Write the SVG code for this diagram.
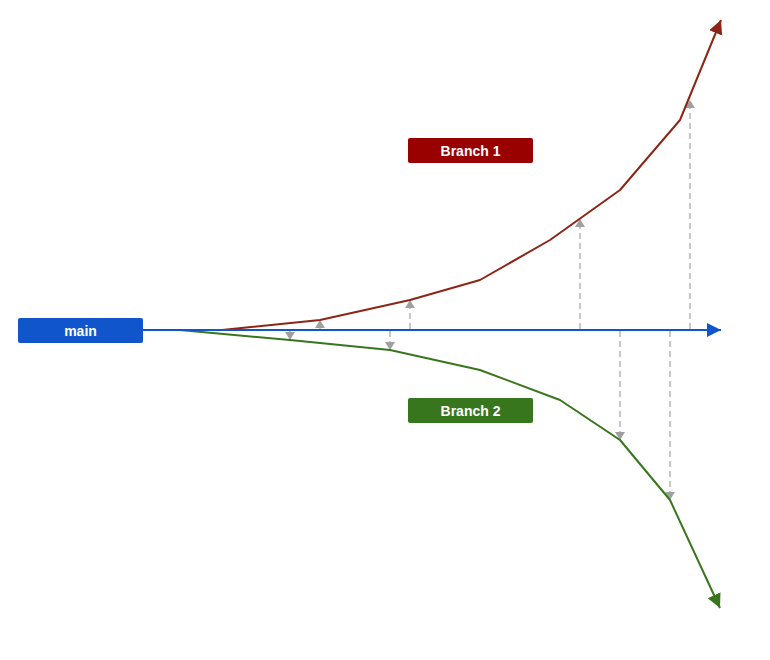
<svg xmlns="http://www.w3.org/2000/svg" width="770" height="660" viewBox="0 0 770 660">
<style>
.lbl{font-family:"Liberation Sans",Arial,sans-serif;font-size:14px;font-weight:bold;fill:#fff;text-anchor:middle;dominant-baseline:central}
.dash{stroke:#c8c8c8;stroke-width:2;stroke-dasharray:6,4;fill:none}
.br{fill:none;stroke-width:2;stroke-linejoin:round}
</style>
<defs>
<marker id="ab" markerUnits="userSpaceOnUse" markerWidth="16" markerHeight="16" refX="14" refY="7" orient="auto"><path d="M0,0 L14,7 L0,14 Z" fill="#1155cc"/></marker>
<marker id="ar" markerUnits="userSpaceOnUse" markerWidth="16" markerHeight="16" refX="14" refY="7" orient="auto"><path d="M0,0 L14,7 L0,14 Z" fill="#8b2616"/></marker>
<marker id="ag" markerUnits="userSpaceOnUse" markerWidth="16" markerHeight="16" refX="14" refY="7" orient="auto"><path d="M0,0 L14,7 L0,14 Z" fill="#38761d"/></marker>
<marker id="ad" markerUnits="userSpaceOnUse" markerWidth="12" markerHeight="12" refX="8" refY="5" orient="auto"><path d="M0,0 L8,5 L0,10 Z" fill="#a0a0a0"/></marker>
</defs>
<g id="connectors">
<line class="dash" x1="290" y1="331" x2="290" y2="340" marker-end="url(#ad)"/>
<line class="dash" x1="320" y1="329" x2="320" y2="320" marker-end="url(#ad)"/>
<line class="dash" x1="390" y1="331" x2="390" y2="350" marker-end="url(#ad)"/>
<line class="dash" x1="410" y1="329" x2="410" y2="300" marker-end="url(#ad)"/>
<line class="dash" x1="580" y1="329" x2="580" y2="219" marker-end="url(#ad)"/>
<line class="dash" x1="620" y1="331" x2="620" y2="440" marker-end="url(#ad)"/>
<line class="dash" x1="670" y1="331" x2="670" y2="500" marker-end="url(#ad)"/>
<line class="dash" x1="690" y1="329" x2="690" y2="100" marker-end="url(#ad)"/>
<polyline class="br" stroke="#8b2616" points="222,330 320,320 410,300 480,280 550,240 620,190 680,120 721,20" marker-end="url(#ar)"/>
<polyline class="br" stroke="#38761d" points="180,330 290,340 390,350 480,370 560,400 620,440 670,500 720,608" marker-end="url(#ag)"/>
<line x1="143" y1="330" x2="721" y2="330" stroke="#1155cc" stroke-width="2" marker-end="url(#ab)"/>
</g>
<g id="main">
<rect x="18" y="318" width="125" height="25" rx="2" fill="#1155cc"/>
<text class="lbl" x="80.5" y="331">main</text>
</g>
<g id="branch1">
<rect x="408" y="138" width="125" height="25" rx="2" fill="#990000"/>
<text class="lbl" x="470.5" y="151">Branch 1</text>
</g>
<g id="branch2">
<rect x="408" y="398" width="125" height="25" rx="2" fill="#38761d"/>
<text class="lbl" x="470.5" y="411">Branch 2</text>
</g>
</svg>
